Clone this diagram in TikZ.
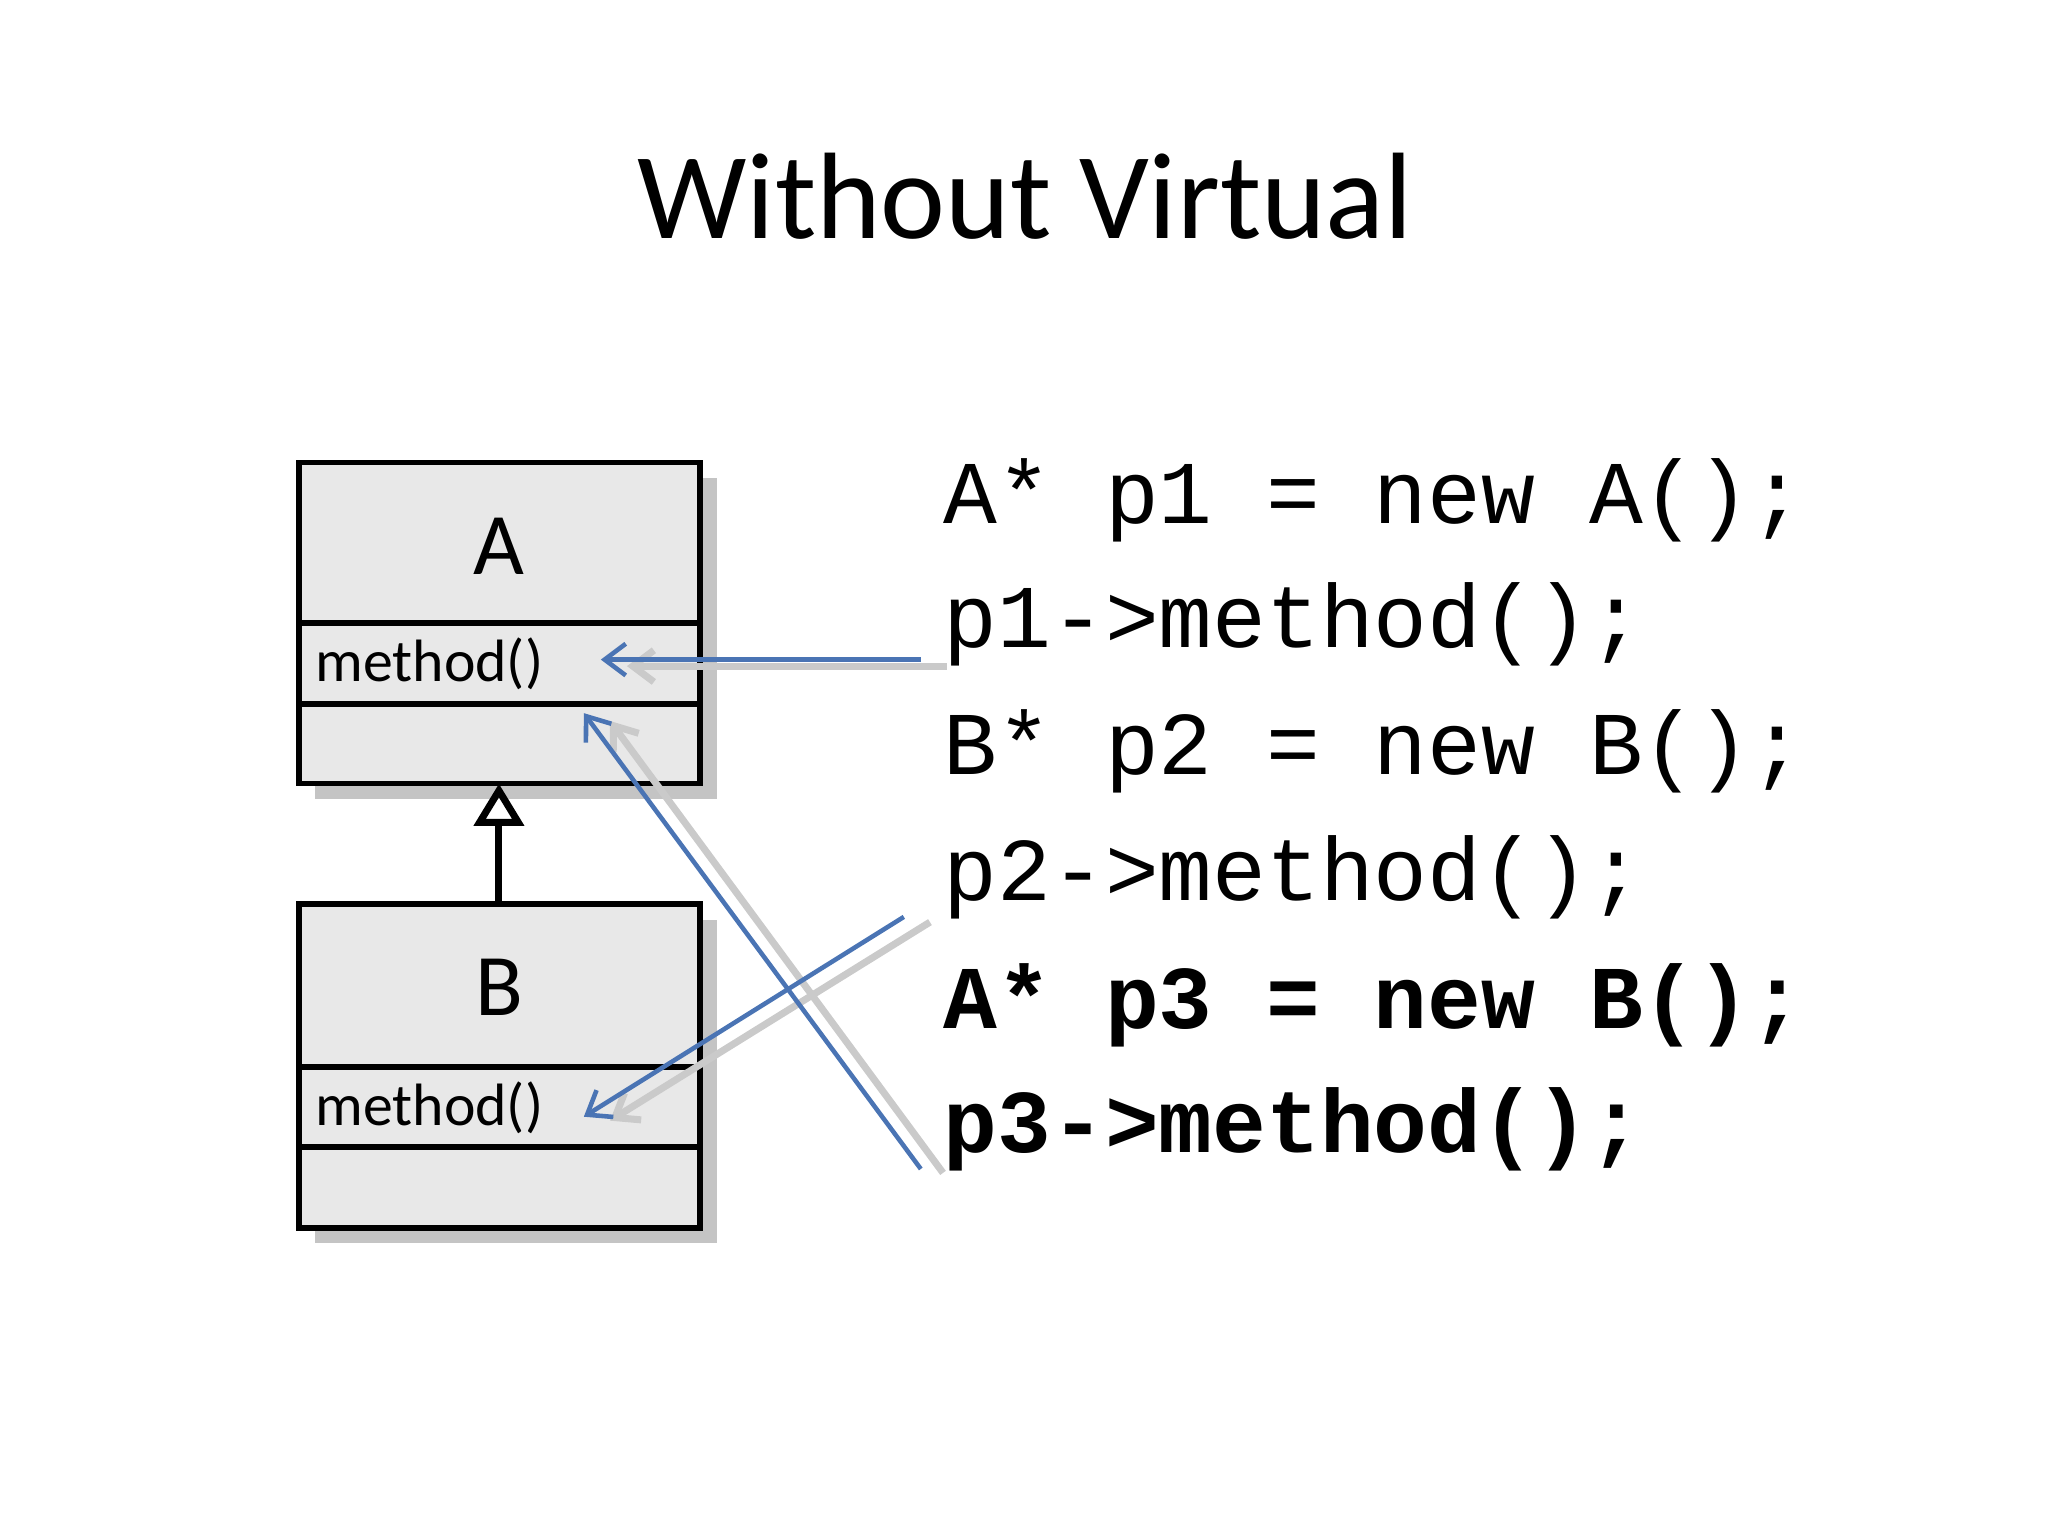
\documentclass[tikz,border=0pt]{standalone}
\usepackage{fontspec}
\setmainfont{Carlito}
\newfontfamily\codefont{Liberation Mono}
\usetikzlibrary{arrows.meta}
\definecolor{boxfill}{HTML}{E8E8E8}
\definecolor{shade}{HTML}{C4C4C4}
\definecolor{blu}{HTML}{4A74B4}
\definecolor{ghost}{HTML}{CACACA}
\tikzset{
  umlbox/.style={draw=black, line width=1.6pt, fill=boxfill},
  shadowbox/.style={fill=shade, draw=none},
  code/.style={anchor=west, inner sep=0pt, font=\codefont\fontsize{25.5}{30}\selectfont},
  codeb/.style={code, font=\codefont\bfseries\fontsize{25.5}{30}\selectfont},
  callarrow/.style={draw=blu, line width=1.3pt, -{Straight Barb[length=6pt,width=9pt]}},
  ghostarrow/.style={draw=ghost, line width=2pt, -{Straight Barb[length=6pt,width=9pt]}},
  meth/.style={anchor=west, inner sep=0pt, font=\fontsize{17}{20}\selectfont}
}
\begin{document}
\begin{tikzpicture}[x=0.01306cm, y=-0.01306cm]
\useasboundingbox (0,0) rectangle (1568,1176);
\node (title) at (785,150) {\fontsize{35}{42}\selectfont Without Virtual};
\fill[shadowbox] (241,366) rectangle (549,612);
\fill[shadowbox] (241,704) rectangle (549,952);
\draw[umlbox] (229,354) rectangle (536,600);
\draw[line width=1.6pt] (229,477) -- (536,477) (229,539) -- (536,539);
\draw[umlbox] (229,692) rectangle (536,940);
\draw[line width=1.6pt] (229,817) -- (536,817) (229,878) -- (536,878);
\node (A) at (382,418) {\fontsize{25}{30}\selectfont A};
\node (B) at (382,756) {\fontsize{25}{30}\selectfont B};
\node[meth] (mA) at (241,508) {method()};
\node[meth] (mB) at (241,848) {method()};
\coordinate (Abot) at (382,600);
\coordinate (Btop) at (382,692);
\draw[line width=2pt, -{Triangle[open,length=12pt,width=14pt]}] (Btop) -- (Abot);
\node[code] (c1) at (722,383) {A* p1 = new A();};
\node[code] (c2) at (722,478) {p1->method();};
\node[code] (c3) at (722,575) {B* p2 = new B();};
\node[code] (c4) at (722,672) {p2->method();};
\node[codeb] (c5) at (722,770) {A* p3 = new B();};
\node[codeb] (c6) at (722,865) {p3->method();};
\coordinate (s1g) at (725,510); \coordinate (e1g) at (480,510);
\coordinate (s2g) at (712,706); \coordinate (e2g) at (467,858);
\coordinate (s3g) at (722,898); \coordinate (e3g) at (467,552);
\draw[ghostarrow] (s1g) -- (e1g);
\draw[ghostarrow] (s2g) -- (e2g);
\draw[ghostarrow] (s3g) -- (e3g);
\coordinate (s1) at (705,505); \coordinate (e1) at (460,505);
\coordinate (s2) at (692,702); \coordinate (e2) at (447,855);
\coordinate (s3) at (705,895); \coordinate (e3) at (447,546);
\draw[callarrow] (s1) -- (e1);
\draw[callarrow] (s2) -- (e2);
\draw[callarrow] (s3) -- (e3);
\end{tikzpicture}
\end{document}
